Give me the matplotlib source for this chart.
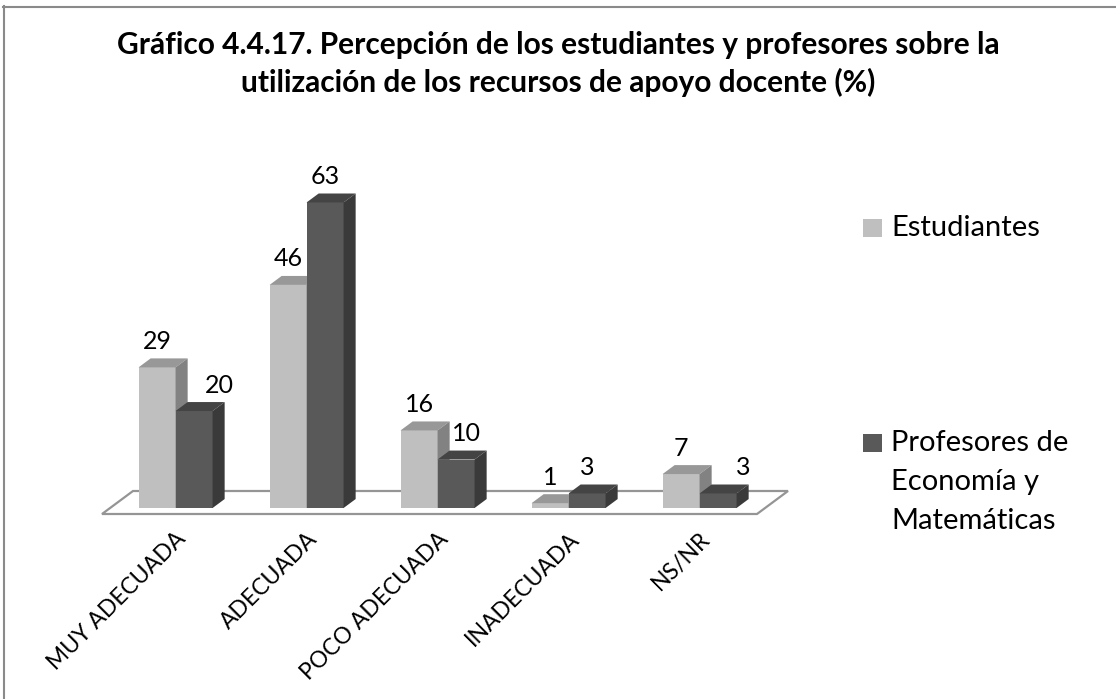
import matplotlib
matplotlib.use("Agg")
import matplotlib.pyplot as plt
from matplotlib.patches import Polygon, Rectangle
from matplotlib.lines import Line2D

# ---------------- data ----------------
categories = ["MUY ADECUADA", "ADECUADA", "POCO ADECUADA", "INADECUADA", "NS/NR"]
series_names = ["Estudiantes", "Profesores de\nEconomía y\nMatemáticas"]
estudiantes = [29, 46, 16, 1, 7]
profesores = [20, 63, 10, 3, 3]
title_lines = ["Gráfico 4.4.17. Percepción de los estudiantes y profesores sobre la",
               "utilización de los recursos de apoyo docente (%)"]

# ---------------- style ----------------
FONT = ["Lato", "DejaVu Sans"]
plt.rcParams['font.family'] = FONT
front_cols = ["#BFBFBF", "#595959"]
top_cols = ["#989898", "#444444"]
side_cols = ["#828282", "#3A3A3A"]
label_nudge_px = [[0, 0, 0, 0, 0], [25, 0, 10, 0, 25]]

W, H, DPI = 1116, 699, 100
fig = plt.figure(figsize=(W / DPI, H / DPI), dpi=DPI)
fig.patch.set_facecolor("white")

# pixel mapping of the axes (category units / value units)
X0, XS = 167.5, 131.0
Y0, YS = 514.0, 4.85
ax = fig.add_axes([0, 0, 1, 1])
ax.set_xlim(-X0 / XS, (W - X0) / XS)
ax.set_ylim((Y0 - H) / YS, Y0 / YS)
ax.axis("off")

DX, DY = 31.0 / XS, 23.0 / YS      # full floor depth in data units
d0, dd = 0.26, 0.39                # bar depth start / depth
w = 37.0 / XS                      # bar width
n = len(categories)

# floor
floor = Polygon([(-0.5, 0), (n - 0.5, 0), (n - 0.5 + DX, DY), (-0.5 + DX, DY)],
                closed=True, facecolor="white", edgecolor="#959595", linewidth=1.6, zorder=1)
ax.add_patch(floor)

z = 2
for i in range(n):
    for k, vals in enumerate([estudiantes, profesores]):
        v = vals[i]
        xl = i - w + k * w + d0 * DX
        b = d0 * DY
        ax.bar(xl, v, width=w, bottom=b, align="edge", color=front_cols[k],
               linewidth=0, zorder=z)
        top = Polygon([(xl, b + v), (xl + w, b + v), (xl + w + dd * DX, b + v + dd * DY),
                       (xl + dd * DX, b + v + dd * DY)], closed=True,
                      facecolor=top_cols[k], edgecolor="none", zorder=z)
        side = Polygon([(xl + w, b), (xl + w + dd * DX, b + dd * DY),
                        (xl + w + dd * DX, b + v + dd * DY), (xl + w, b + v)], closed=True,
                       facecolor=side_cols[k], edgecolor="none", zorder=z)
        ax.add_patch(top)
        ax.add_patch(side)
        ax.text(xl + w / 2 + label_nudge_px[k][i] / XS, b + v + dd * DY + 17.0 / YS,
                str(v), ha="center", va="center", fontsize=18, color="black", zorder=50)
        z += 1

# category labels
for i, c in enumerate(categories):
    ax.text(i + 0.06, -2.9, c, rotation=45, rotation_mode="anchor",
            ha="right", va="top", fontsize=16.5, color="black")

# title
fig.text(0.5, 1 - 45 / H, title_lines[0], ha="center", va="center",
         fontsize=21.5, fontweight="bold", color="black")
fig.text(0.5, 1 - 82 / H, title_lines[1], ha="center", va="center",
         fontsize=21.5, fontweight="bold", color="black")

# legend
leg_sq = [228, 443]
leg_center = [228, 482]
for k, name in enumerate(series_names):
    fig.patches.append(Rectangle((863 / W, 1 - (leg_sq[k] + 9) / H), 19 / W, 18 / H,
                                 transform=fig.transFigure, facecolor=front_cols[k],
                                 edgecolor="none"))
    fig.text(891 / W, 1 - leg_center[k] / H, name, ha="left", va="center",
             fontsize=21, color="black", linespacing=1.62)

# chart border (top and left)
fig.lines.append(Line2D([3 / W, 1], [1 - 6.5 / H, 1 - 6.5 / H], transform=fig.transFigure,
                        color="#8A8A8A", linewidth=1.5))
fig.lines.append(Line2D([3.5 / W, 3.5 / W], [0, 1 - 6 / H], transform=fig.transFigure,
                        color="#8A8A8A", linewidth=1.5))

fig.savefig("out.png", dpi=DPI, facecolor="white")
